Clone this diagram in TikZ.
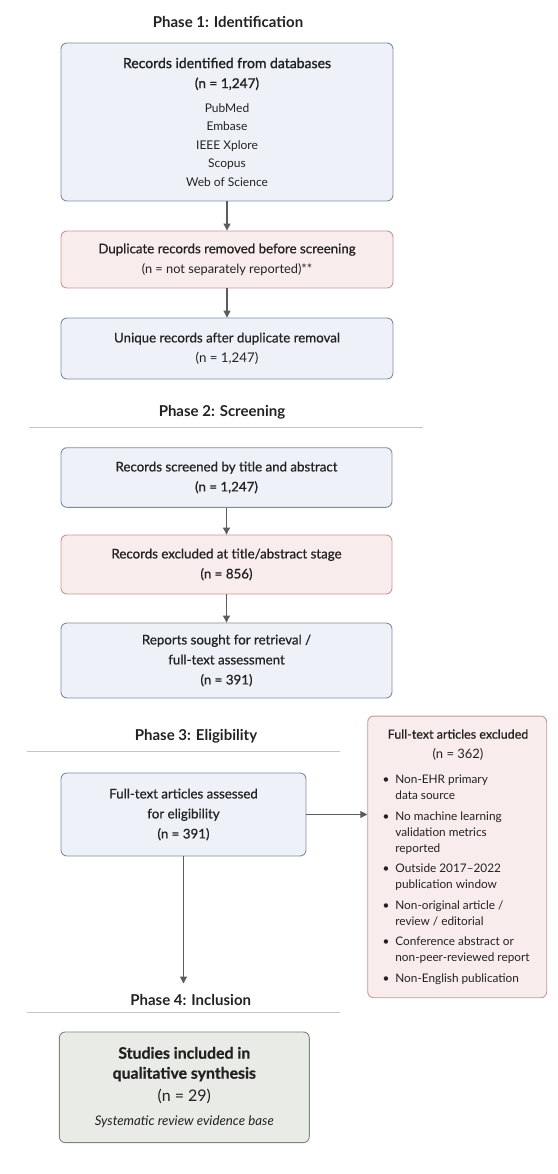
\documentclass[tikz,border=0pt]{standalone}
\usepackage{fontspec}
\setmainfont{Lato}
\newfontfamily\semib{Lato}[FakeBold=1.3]
\newfontfamily\medf{Lato}[FakeBold=0.7]
\usetikzlibrary{arrows.meta}

\definecolor{boxblue}{HTML}{EEF2F8}
\definecolor{lineblue}{HTML}{7D8CA5}
\definecolor{boxred}{HTML}{F9ECEC}
\definecolor{linered}{HTML}{C9979A}
\definecolor{boxgreen}{HTML}{E9ECE6}
\definecolor{linegreen}{HTML}{7A8A72}
\definecolor{arrowgray}{HTML}{5C5C5C}
\definecolor{rulegray}{HTML}{C4C4C4}
\definecolor{textdark}{HTML}{222222}

\newcommand{\exbullet}{\makebox[12.7pt][l]{\textbullet}}
\newcommand{\exindent}{\hspace*{12.7pt}}

\begin{document}
\begin{tikzpicture}[x=1pt, y=-1pt,
	box/.style={draw, rounded corners=6pt, line width=0.9pt, inner sep=0pt, align=center, text=textdark, font=\medf\fontsize{13.3}{20}\selectfont},
	bluebox/.style={box, draw=lineblue, fill=boxblue},
	redbox/.style={box, draw=linered, fill=boxred},
	greenbox/.style={box, draw=linegreen, fill=boxgreen},
	phase/.style={font=\fontsize{15}{18}\selectfont\bfseries, text=textdark, inner sep=0pt},
	phaserule/.style={draw=rulegray, line width=0.9pt},
	flow/.style={-{Triangle[length=7pt,width=7pt]}, draw=arrowgray, line width=1.1pt}]
\useasboundingbox (0,0) rectangle (557,1174);

% Phase 1
\node[phase] (ph1) at (228,22) {Phase 1: Identification};
\node[bluebox, minimum width=332pt, minimum height=158pt] (ident) at (227,122)
	{{\semib\fontsize{14}{20}\selectfont Records identified from databases}\\
	{\semib\fontsize{13.6}{20}\selectfont (n = 1,247)}\\[4pt]
	{\normalfont\fontsize{12}{20}\selectfont PubMed}\\[-1.5pt]
	{\normalfont\fontsize{12}{20}\selectfont Embase}\\[-1.5pt]
	{\normalfont\fontsize{12}{20}\selectfont IEEE Xplore}\\[-1.5pt]
	{\normalfont\fontsize{12}{20}\selectfont Scopus}\\[-1.5pt]
	{\normalfont\fontsize{12}{20}\selectfont Web of Science}};
\node[redbox, minimum width=332pt, minimum height=57pt] (dup) at (227,259.5)
	{Duplicate records removed before screening\\{\normalfont\fontsize{12.8}{20}\selectfont (n = not separately reported)**}};
\node[bluebox, minimum width=332pt, minimum height=61pt] (uniq) at (227,348.5)
	{Unique records after duplicate removal\\{\normalfont\fontsize{13.3}{20}\selectfont (n = 1,247)}};
\draw[flow] (ident) -- (dup);
\draw[flow] (dup) -- (uniq);

% Phase 2
\node[phase] (ph2) at (222,412.7) {Phase 2: Screening};
\draw[phaserule] (29,427) -- (423,427);
\node[bluebox, minimum width=331pt, minimum height=59.6pt] (screen) at (226.5,477.5)
	{Records screened by title and abstract\\(n = 1,247)};
\node[redbox, minimum width=331pt, minimum height=59pt] (tiabex) at (226.5,564.5)
	{Records excluded at title/abstract stage\\(n = 856)};
\node[bluebox, minimum width=331pt, minimum height=75pt] (sought) at (226.5,660.5)
	{Reports sought for retrieval /\\full-text assessment\\(n = 391)};
\draw[flow] (screen) -- (tiabex);
\draw[flow] (tiabex) -- (sought);

% Phase 3
\node[phase] (ph3) at (196,736.7) {Phase 3: Eligibility};
\draw[phaserule] (27,751) -- (340,751);
\node[bluebox, minimum width=245pt, minimum height=83pt] (assess) at (183.5,814.5)
	{Full-text articles assessed\\for eligibility\\(n = 391)};
\node[redbox, minimum width=179pt, minimum height=281.7pt] (ftex) at (457.2,856.9) {};
\node[align=center, inner sep=0pt, text=textdark, font=\medf\fontsize{12.5}{20}\selectfont] (ftexhead) at (458,745)
	{Full-text articles excluded\\{\normalfont\fontsize{13}{20}\selectfont (n = 362)}};
\node[anchor=north west, align=left, inner sep=0pt, text=textdark, font=\fontsize{11.8}{16}\selectfont] (ftexlist) at (382.5,775)
	{\exbullet Non-EHR primary\\
	\exindent data source\\[4.5pt]
	\exbullet No machine learning\\
	\exindent validation metrics\\
	\exindent reported\\[4.5pt]
	\exbullet Outside 2017--2022\\
	\exindent publication window\\[4.5pt]
	\exbullet Non-original article /\\
	\exindent review / editorial\\[4.5pt]
	\exbullet Conference abstract or\\
	\exindent non-peer-reviewed report\\[4.5pt]
	\exbullet Non-English publication};
\draw[flow] (assess.east) -- (assess.east -| ftex.west);
\coordinate (inclend) at (assess.south |- 0,983.5);
\draw[flow] (assess) -- (inclend);

% Phase 4
\node[phase] (ph4) at (190.7,1000) {Phase 4: Inclusion};
\draw[phaserule] (27,1012.3) -- (340,1012.3);
\node[greenbox, minimum width=250pt, minimum height=110.7pt] (incl) at (184.3,1087.3)
	{{\bfseries\fontsize{15.8}{20}\selectfont Studies included in}\\
	{\bfseries\fontsize{15.8}{20}\selectfont qualitative synthesis}\\[2.7pt]
	{\normalfont\fontsize{16}{20}\selectfont (n = 29)}\\[4pt]
	{\normalfont\itshape\fontsize{13.3}{20}\selectfont Systematic review evidence base}};
\end{tikzpicture}
\end{document}
